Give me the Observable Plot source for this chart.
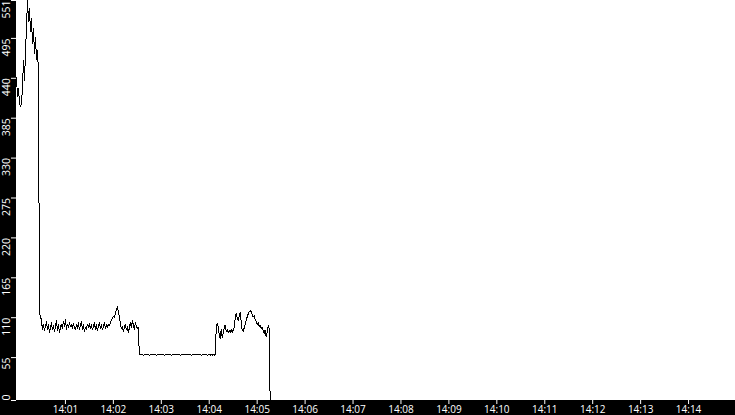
<!DOCTYPE html>
<html>
<head>
<meta charset="utf-8">
<script src="https://cdn.jsdelivr.net/npm/d3@7"></script>
<script src="https://cdn.jsdelivr.net/npm/@observablehq/plot@0.6"></script>
<style>
  html, body { margin: 0; padding: 0; background: #000; }
  #chart svg { display: block; }
</style>
</head>
<body>
<div id="chart"></div>
<script>
// ---- data ----
const startLabel = "14:00";
const endLabel = "14:15";
const sampleSeconds = 1.25;

const spikeValues = [445, 418, 430, 410, 404, 408, 432, 468, 440, 478, 515, 551, 522, 540, 508, 526, 492, 512, 478, 500, 470, 482, 452];

const firstPlateauValues = [119, 114, 110,
  96, 104, 95, 101, 108, 97, 103, 93, 99, 106, 96, 102, 94, 100, 109, 95, 103, 92, 100, 104, 98, 108,
  101, 110, 97, 104, 99, 106, 101, 104, 98, 105, 100, 96, 103, 98, 106, 96, 102, 108, 97, 103, 94, 100,
  97, 104, 99, 105, 98, 103, 96, 101, 106, 97, 103, 95, 101, 107, 98, 104, 96, 100, 106, 98, 103, 99,
  104, 102, 106, 109, 112, 115, 113, 118, 124, 128, 121, 114, 105, 98, 101, 94, 99, 104, 96, 101, 92,
  99, 106, 100, 109, 103, 97, 106, 101, 98, 100];

const secondPlateauValues = [62, 62, 62, 62, 61, 62, 62, 62, 62, 62, 61, 62, 62, 62, 62, 62, 62, 61, 62, 62,
  62, 62, 62, 62, 62, 61, 62, 62, 62, 62, 62, 62, 61, 62, 62, 62, 62, 62, 62, 62, 62, 61, 62, 62, 62,
  62, 62, 62, 62, 62, 62, 62, 61, 62, 62, 62, 62, 62, 62, 62, 62, 62, 61, 62, 62, 62, 62, 62, 61, 62,
  62, 61, 62, 61, 62, 61, 62];

const thirdSegmentValues = [98, 105, 100, 90, 84, 97, 86, 92, 99, 103, 94, 97, 92, 95, 93, 97, 92, 96, 100,
  112, 119, 113, 109, 115, 120, 107, 96, 94, 99, 104, 110, 114, 118, 121, 123, 121, 118, 114, 116, 111,
  108, 104, 106, 101, 103, 98, 100, 95, 91, 96, 87, 92, 102, 98, 0];

const yMax = 551;
const yTicks = [0, 55.1, 110.2, 165.3, 220.4, 275.5, 330.6, 385.7, 440.8, 495.9, 551];
const yTickLabels = ["0", "55", "110", "165", "220", "275", "330", "385", "440", "495", "551"];
const xTickLabels = ["14:01", "14:02", "14:03", "14:04", "14:05", "14:06", "14:07", "14:08", "14:09", "14:10", "14:11", "14:12", "14:13", "14:14"];

// ---- build ----
const parse = d3.utcParse("%H:%M");
const t0 = parse(startLabel);
const values = [...spikeValues, ...firstPlateauValues, ...secondPlateauValues, ...thirdSegmentValues];
const data = values.map((v, i) => ({t: new Date(+t0 + i * sampleSeconds * 1000), v}));
const xTicks = xTickLabels.map(parse);
const labelOf = new Map(yTicks.map((d, i) => [d, yTickLabels[i]]));
const fmtY = d => labelOf.get(d);
const font = "'Open Sans', sans-serif";
const fs = 10.5;
const fsX = 10;

const yAxisCommon = {tickSize: 5, tickRotate: -90, tickPadding: 1.5, tickFormat: fmtY, label: null, color: "white", fontSize: fs, fontFamily: font};

const chart = Plot.plot({
  width: 735,
  height: 415,
  marginLeft: 16,
  marginRight: 0,
  marginTop: 0,
  marginBottom: 16,
  style: {background: "black", color: "white", fontFamily: font, fontSize: fs + "px"},
  x: {type: "utc", domain: [t0, parse(endLabel)]},
  y: {domain: [0, yMax]},
  marks: [
    Plot.frame({fill: "white", stroke: "white"}),
    Plot.line(data, {x: "t", y: "v", stroke: "black", strokeWidth: 1, shapeRendering: "crispEdges"}),
    Plot.axisX(xTicks, {tickSize: 5, tickPadding: 1, dx: 1, tickFormat: d3.utcFormat("%H:%M"), label: null, color: "white", fontSize: fsX, fontFamily: font}),
    Plot.axisY(yTicks.slice(1, -1), {...yAxisCommon, textAnchor: "end", dy: -2}),
    Plot.axisY([yTicks[yTicks.length - 1]], {...yAxisCommon, textAnchor: "end", dy: 0}),
    Plot.axisY([yTicks[0]], {...yAxisCommon, textAnchor: "start", dy: 1})
  ]
});
document.getElementById("chart").append(chart);
</script>
</body>
</html>
